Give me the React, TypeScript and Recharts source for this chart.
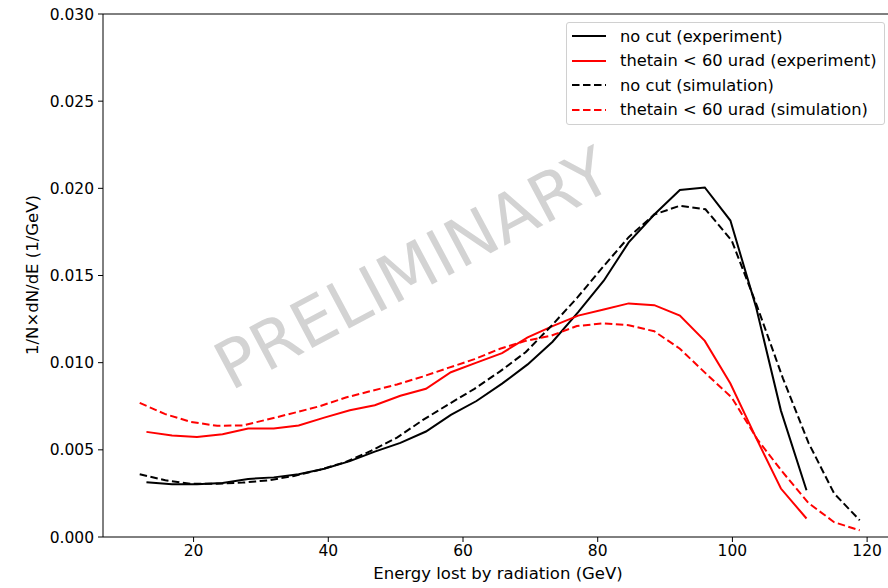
import { LineChart, Line, XAxis, YAxis, ReferenceLine } from 'recharts';

// bin centres (GeV)
const expEnergy = [13.0, 16.8, 20.5, 24.3, 28.1, 31.9, 35.6, 39.4, 43.2, 46.9, 50.7, 54.5, 58.2, 62.0, 65.8, 69.6, 73.3, 77.1, 80.9, 84.6, 88.4, 92.2, 95.9, 99.7, 103.5, 107.2, 111.0];
const simEnergy = [12.0, 15.8, 19.6, 23.5, 27.3, 31.1, 34.9, 38.7, 42.6, 46.4, 50.2, 54.0, 57.8, 61.7, 65.5, 69.3, 73.1, 76.9, 80.8, 84.6, 88.4, 92.2, 96.0, 99.9, 103.7, 107.5, 111.3, 115.1, 118.9];

const expNoCut = [0.00314, 0.00302, 0.00302, 0.0031, 0.00333, 0.00342, 0.0036, 0.00392, 0.00435, 0.0049, 0.0054, 0.00605, 0.007, 0.0078, 0.0088, 0.0099, 0.0112, 0.0129, 0.0147, 0.0169, 0.0185, 0.0199, 0.02005, 0.01815, 0.0132, 0.00725, 0.00268];
const expCut = [0.00603, 0.00582, 0.00574, 0.0059, 0.00622, 0.00622, 0.0064, 0.00685, 0.00727, 0.00756, 0.0081, 0.0085, 0.00945, 0.01, 0.01055, 0.01145, 0.0121, 0.0127, 0.01305, 0.0134, 0.0133, 0.0127, 0.01125, 0.0088, 0.0057, 0.00278, 0.00106];
const simNoCut = [0.0036, 0.00325, 0.00305, 0.00305, 0.00312, 0.00325, 0.0035, 0.00385, 0.0043, 0.00495, 0.0057, 0.0067, 0.0076, 0.0085, 0.0095, 0.0106, 0.0121, 0.0137, 0.0155, 0.0172, 0.0185, 0.019, 0.0188, 0.017, 0.0132, 0.0091, 0.0054, 0.0025, 0.00096];
const simCut = [0.00769, 0.00705, 0.0066, 0.00638, 0.0064, 0.00675, 0.00712, 0.0075, 0.008, 0.00838, 0.00875, 0.0092, 0.0097, 0.0102, 0.0108, 0.01125, 0.01155, 0.0121, 0.01225, 0.01215, 0.0118, 0.0108, 0.0094, 0.008, 0.0056, 0.0037, 0.00195, 0.00085, 0.00038];

const xTicks = [20, 40, 60, 80, 100, 120];
const yTicks = [0, 0.005, 0.01, 0.015, 0.02, 0.025, 0.03];

const FONT = '"DejaVu Sans", sans-serif';

const toPoints = (xs: number[], ys: number[]) => xs.map((x, i) => ({ x, y: ys[i] }));

const series = [
  { name: 'no cut (experiment)', data: toPoints(expEnergy, expNoCut), color: '#000000', dash: undefined },
  { name: 'thetain < 60 urad (experiment)', data: toPoints(expEnergy, expCut), color: '#ff0000', dash: undefined },
  { name: 'no cut (simulation)', data: toPoints(simEnergy, simNoCut), color: '#000000', dash: '7.5 3.5' },
  { name: 'thetain < 60 urad (simulation)', data: toPoints(simEnergy, simCut), color: '#ff0000', dash: '7.5 3.5' },
];

function LegendBox() {
  return (
    <div
      style={{
        position: 'absolute',
        left: 566,
        top: 22,
        width: 317,
        height: 101,
        border: '1px solid #d0d0d0',
        borderRadius: 3,
        background: 'rgba(255,255,255,0.8)',
        fontFamily: FONT,
        fontSize: 16.3,
        color: '#000',
      }}
    >
      {series.map((s, i) => (
        <div key={s.name} style={{ position: 'absolute', left: 4, top: 2 + i * 24.5, height: 22, display: 'flex', alignItems: 'center' }}>
          <svg width={36} height={20}>
            <line x1={1} y1={10} x2={35} y2={10} stroke={s.color} strokeWidth={2} strokeDasharray={s.dash} />
          </svg>
          <span style={{ marginLeft: 13, whiteSpace: 'nowrap' }}>{s.name}</span>
        </div>
      ))}
    </div>
  );
}

export default function App() {
  return (
    <div style={{ position: 'absolute', left: 0, top: 0, width: 888, height: 588, background: '#fff' }}>
      <svg width={888} height={588} style={{ position: 'absolute', left: 0, top: 0 }}>
        <text
          x={413}
          y={269}
          transform="rotate(-28 413 269)"
          textAnchor="middle"
          dominantBaseline="central"
          fontFamily={FONT}
          fontSize={66}
          fill="#d3d3d3"
        >
          PRELIMINARY
        </text>
        <text x={498} y={579} textAnchor="middle" fontFamily={FONT} fontSize={16.5} fill="#000">
          Energy lost by radiation (GeV)
        </text>
        <text
          x={38}
          y={275}
          transform="rotate(-90 38 275)"
          textAnchor="middle"
          fontFamily={FONT}
          fontSize={16.5}
          fill="#000"
        >
          1/N×dN/dE (1/GeV)
        </text>
      </svg>
      <div style={{ position: 'absolute', left: 0, top: 0 }}>
        <LineChart width={888} height={588} margin={{ top: 14, right: 0, bottom: 0, left: 0 }}>
          <XAxis
            type="number"
            dataKey="x"
            domain={[6.55, 123.1]}
            ticks={xTicks}
            allowDataOverflow
            height={51}
            tickSize={5}
            tickMargin={3}
            stroke="#000"
            tick={{ fill: '#000', fontSize: 15.5, fontFamily: FONT }}
          />
          <YAxis
            type="number"
            domain={[0, 0.03]}
            ticks={yTicks}
            width={103}
            tickSize={5}
            tickMargin={4}
            stroke="#000"
            tickFormatter={(v: number) => v.toFixed(3)}
            tick={{ fill: '#000', fontSize: 15.5, fontFamily: FONT }}
          />
          <ReferenceLine y={0.03} stroke="#000" strokeWidth={1} />
          {series.map((s) => (
            <Line
              key={s.name}
              data={s.data}
              dataKey="y"
              type="linear"
              stroke={s.color}
              strokeWidth={2}
              strokeDasharray={s.dash}
              dot={false}
              activeDot={false}
              isAnimationActive={false}
            />
          ))}
        </LineChart>
      </div>
      <LegendBox />
    </div>
  );
}
